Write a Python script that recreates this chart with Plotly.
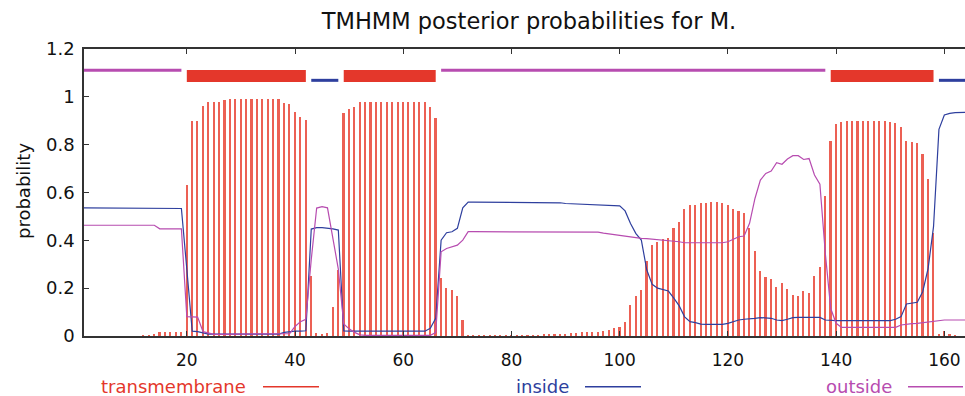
import plotly.graph_objects as go

# residue positions
positions = list(range(1, 165))

# posterior probability of transmembrane helix per residue
tm_prob = (
    [0.0] * 11
    + [0.003, 0.004, 0.005, 0.015, 0.015, 0.015, 0.015, 0.018]            # 12-19
    + [0.63, 0.899, 0.90, 0.963, 0.977, 0.98, 0.98, 0.985, 0.99]          # 20-28
    + [0.99] * 9                                                          # 29-37
    + [0.975, 0.97, 0.935, 0.917, 0.903]                                  # 38-42
    + [0.25, 0.014, 0.007, 0.014, 0.12, 0.276]                            # 43-48
    + [0.931, 0.949, 0.957, 0.977]                                        # 49-52
    + [0.98] * 12                                                         # 53-64
    + [0.957, 0.911]                                                      # 65-66
    + [0.241, 0.202, 0.193, 0.168, 0.068]                                 # 67-71
    + [0.003] + [0.001] * 8                                               # 72-80
    + [0.002, 0.002, 0.003, 0.004, 0.004, 0.005, 0.006, 0.007, 0.008, 0.01]   # 81-90
    + [0.012, 0.014, 0.015, 0.015, 0.016, 0.018, 0.022, 0.027, 0.033, 0.038]  # 91-100
    + [0.06, 0.128, 0.167, 0.192, 0.313, 0.382, 0.393, 0.404, 0.411, 0.45]    # 101-110
    + [0.475, 0.532, 0.549, 0.549, 0.555, 0.558, 0.56, 0.56, 0.555, 0.548]    # 111-120
    + [0.531, 0.521, 0.513, 0.45, 0.355, 0.272, 0.247, 0.238, 0.205, 0.222]   # 121-130
    + [0.195, 0.17, 0.167, 0.187, 0.179, 0.25, 0.287, 0.585, 0.817, 0.885]    # 131-140
    + [0.896] + [0.899] * 8                                               # 141-149
    + [0.894, 0.891, 0.872, 0.815, 0.811, 0.805, 0.76, 0.656, 0.43]       # 150-158
    + [0.01, 0.022, 0.005, 0.003, 0.0, 0.0]                               # 159-164
)

# posterior probability of inside
inside_prob = (
    [0.536] * 18 + [0.533, 0.28, 0.02, 0.018, 0.014]                      # 1-23
    + [0.008] * 14                                                        # 24-37
    + [0.015, 0.018, 0.02, 0.02, 0.022]                                   # 38-42
    + [0.447, 0.453, 0.453, 0.452, 0.448, 0.443]                          # 43-48
    + [0.021] + [0.02] * 15                                               # 49-64
    + [0.032, 0.074, 0.401, 0.432, 0.436, 0.45, 0.536, 0.56]              # 65-72
    + [0.56] * 16                                                         # 73-88
    + [0.557, 0.554, 0.553, 0.552, 0.551, 0.551, 0.55, 0.549, 0.548, 0.547, 0.546, 0.544]  # 89-100
    + [0.523, 0.47, 0.428, 0.401, 0.277, 0.216, 0.2, 0.195, 0.188, 0.158]    # 101-110
    + [0.126, 0.08, 0.06, 0.056, 0.05, 0.049, 0.049, 0.049, 0.049, 0.053]    # 111-120
    + [0.06, 0.067, 0.07, 0.071, 0.074, 0.077, 0.077, 0.074, 0.067, 0.064]   # 121-130
    + [0.07, 0.077, 0.078, 0.078, 0.078, 0.078, 0.078, 0.067]             # 131-138
    + [0.064] * 12                                                        # 139-150
    + [0.07, 0.081, 0.134, 0.137, 0.141, 0.185, 0.283, 0.457]             # 151-158
    + [0.864, 0.924, 0.931, 0.934, 0.935, 0.935]                          # 159-164
)

# posterior probability of outside
outside_prob = (
    [0.463] * 14 + [0.448] * 5                                            # 1-19
    + [0.081, 0.081, 0.079, 0.018, 0.011]                                 # 20-24
    + [0.007] * 14                                                        # 25-38
    + [0.01, 0.04, 0.06, 0.07]                                            # 39-42
    + [0.32, 0.535, 0.541, 0.536, 0.41, 0.28]                             # 43-48
    + [0.05, 0.03, 0.015, 0.005]                                          # 49-52
    + [0.003] * 13                                                        # 53-65
    + [0.014, 0.352, 0.366, 0.373, 0.38, 0.401, 0.436]                    # 66-72
    + [0.436] * 23                                                        # 73-95
    + [0.434, 0.43, 0.427, 0.422, 0.418]                                  # 96-100
    + [0.415, 0.412, 0.41, 0.408, 0.407, 0.405, 0.404, 0.402, 0.4, 0.397]    # 101-110
    + [0.394, 0.39, 0.39, 0.39, 0.39, 0.39, 0.39, 0.39, 0.39, 0.394]         # 111-120
    + [0.404, 0.415, 0.418, 0.471, 0.575, 0.652, 0.68, 0.69, 0.725, 0.718]   # 121-130
    + [0.74, 0.754, 0.754, 0.738, 0.742, 0.673, 0.635, 0.346, 0.115, 0.053]  # 131-140
    + [0.036] * 11                                                        # 141-151
    + [0.046, 0.05, 0.052, 0.053, 0.056, 0.06, 0.064]                     # 152-158
    + [0.067] * 6                                                         # 159-164
)

# predicted topology: (label, start, end)
seg_labels = ["outside", "TMhelix", "inside", "TMhelix", "outside", "TMhelix", "inside"]
seg_starts = [1, 20, 43, 49, 67, 139, 159]
seg_ends = [19, 42, 48, 66, 138, 158, 164]

x_ticks = [20, 40, 60, 80, 100, 120, 140, 160]
y_ticks = [0, 0.2, 0.4, 0.6, 0.8, 1.0, 1.2]
legend_labels = ["transmembrane", "inside", "outside"]

RED = "#e4372b"
BLUE = "#2e3f9e"
MAG = "#b74cb0"
FONT = "DejaVu Sans"

fig = go.Figure()

fig.add_trace(go.Bar(x=positions, y=tm_prob, width=0.3,
                     marker=dict(color="#ec6054", line=dict(width=0)),
                     showlegend=False, hoverinfo="skip"))
fig.add_trace(go.Scatter(x=positions, y=inside_prob, mode="lines",
                         line=dict(color=BLUE, width=1.2), showlegend=False))
fig.add_trace(go.Scatter(x=positions, y=outside_prob, mode="lines",
                         line=dict(color=MAG, width=1.2), showlegend=False))

# topology bars on top
seg_style = {
    "outside": dict(level=1.111, color=MAG, width=3),
    "inside": dict(level=1.069, color=BLUE, width=3),
    "TMhelix": dict(level=1.0875, color=RED, width=12),
}
for kind, st in seg_style.items():
    xs, ys = [], []
    for lab, s, e in zip(seg_labels, seg_starts, seg_ends):
        if lab == kind:
            xs += [s, e, None]
            ys += [st["level"], st["level"], None]
    fig.add_trace(go.Scatter(x=xs, y=ys, mode="lines",
                             line=dict(color=st["color"], width=st["width"]),
                             showlegend=False, hoverinfo="skip"))

W, H = 965, 396
L, R, T = 84, 0, 49
B = H - 336
pw = W - L - R
ph = H - T - B

def px2paper_x(px):
    return (px - L) / pw

def px2paper_y(py):
    return (H - B - py) / ph

# legend (text then line sample), gnuplot style
leg_text_right = [248, 571, 894]
leg_line = [(263, 319), (585, 641), (908, 963)]
leg_colors = [RED, BLUE, MAG]
for lab, xr, (x0, x1), col in zip(legend_labels, leg_text_right, leg_line, leg_colors):
    fig.add_annotation(x=px2paper_x(xr), y=px2paper_y(386), xref="paper", yref="paper",
                       text=lab, showarrow=False, xanchor="right", yanchor="middle",
                       font=dict(family=FONT, size=18, color=col))
    fig.add_shape(type="line", xref="paper", yref="paper",
                  x0=px2paper_x(x0), x1=px2paper_x(x1),
                  y0=px2paper_y(386.7), y1=px2paper_y(386.7),
                  line=dict(color=col, width=1.5))

fig.add_annotation(x=px2paper_x(23), y=px2paper_y(191), xref="paper", yref="paper",
                   text="probability", textangle=-90, showarrow=False,
                   xanchor="center", yanchor="middle",
                   font=dict(family=FONT, size=18, color="#111"))

fig.update_layout(
    width=W, height=H,
    margin=dict(l=L, r=R, t=T, b=B, pad=0),
    paper_bgcolor="white", plot_bgcolor="white",
    title=dict(text="TMHMM posterior probabilities for M.", x=529 / W, xanchor="center",
               y=1 - 21 / H, yanchor="middle", yref="container",
               font=dict(family=FONT, size=22.5, color="#111")),
    bargap=0,
    xaxis=dict(range=[1, 1 + pw / 5.411], tickvals=x_ticks, ticks="inside", ticklen=5,
               tickcolor="#333", showline=True, linecolor="#333", linewidth=1.5,
               mirror="ticks", showgrid=False, zeroline=False, ticklabelstandoff=8,
               tickfont=dict(family=FONT, size=17, color="#111")),
    yaxis=dict(range=[0, 1.2], tickvals=y_ticks, ticks="inside", ticklen=5,
               tickcolor="#333", showline=True, linecolor="#333", linewidth=1.5,
               mirror=False, showgrid=False, zeroline=False, ticklabelstandoff=4,
               tickfont=dict(family=FONT, size=18, color="#111")),
)

# remove the default 8px page margin so the figure fills the window exactly
fig.write_html("out.html", config={"displayModeBar": False},
               post_script="document.body.style.margin='0px';")
